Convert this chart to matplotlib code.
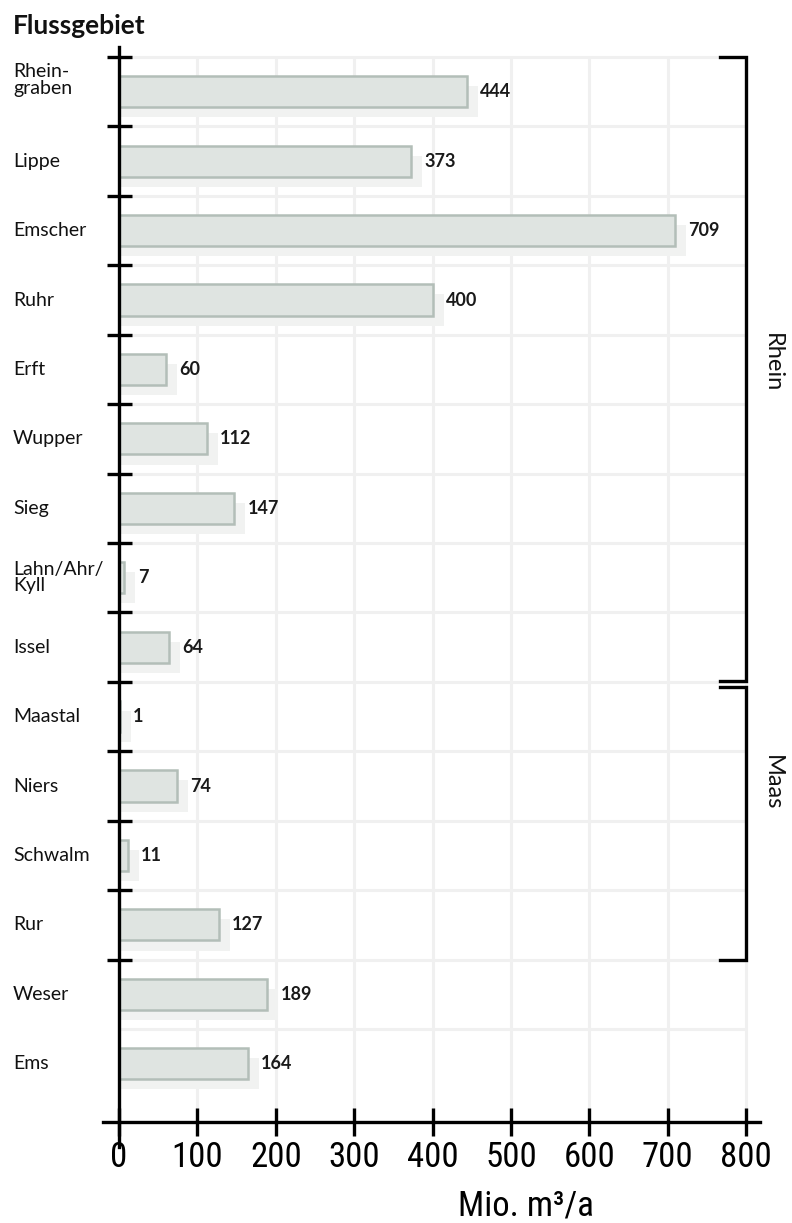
import os
import matplotlib
matplotlib.use('Agg')
import matplotlib.pyplot as plt
from matplotlib import font_manager
from matplotlib.font_manager import FontProperties
from matplotlib.transforms import blended_transform_factory

# data
categories = ['Rhein-\ngraben', 'Lippe', 'Emscher', 'Ruhr', 'Erft', 'Wupper', 'Sieg',
              'Lahn/Ahr/\nKyll', 'Issel', 'Maastal', 'Niers', 'Schwalm', 'Rur', 'Weser', 'Ems']
values = [444, 373, 709, 400, 60, 112, 147, 7, 64, 1, 74, 11, 127, 189, 164]
xticks = [0, 100, 200, 300, 400, 500, 600, 700, 800]
# group name, first row edge, last row edge, label row
groups = [('Rhein', -0.5, 8.49, 3.9), ('Maas', 8.57, 12.5, 9.95)]

# fonts
names = {f.name for f in font_manager.fontManager.ttflist}
label_family = ['Lato', 'DejaVu Sans'] if 'Lato' in names else ['Open Sans', 'DejaVu Sans']

narrow_file = None
narrow_size = 22
for key, size in [('LiberationSansNarrow-Regular', 26), ('RobotoCondensed-Regular', 25),
                  ('DejaVuSansCondensed.ttf', 22)]:
    hits = [f.fname for f in font_manager.fontManager.ttflist if key in os.path.basename(f.fname)]
    if hits:
        narrow_file, narrow_size = hits[0], size
        break
if narrow_file:
    tick_font = FontProperties(fname=narrow_file, size=narrow_size)
else:
    tick_font = FontProperties(family='Roboto', size=narrow_size)

# colours
bar_fill = '#dfe4e1'
bar_edge = '#b3beb8'
shadow_col = '#f1f2f1'
grid_col = '#f0f0f0'

fig = plt.figure(figsize=(7.92, 12.23), dpi=100)
ax = fig.add_axes([0, 0, 1, 1])

# pixel layout: x=0 at 119px, 100 units = 78.4px; rows 69.43px, first edge at 57px
ax.set_xlim((0 - 119) / 0.784, (792 - 119) / 0.784)
ax.set_ylim((1223 - 57) / 69.43 - 0.5, -57 / 69.43 - 0.5)
ax.set_facecolor('white')

rows = list(range(len(categories)))
x_axis_row = 14.84

# grid
for t in xticks[1:]:
    ax.plot([t, t], [-0.5, x_axis_row], color=grid_col, lw=2.2, zorder=0, solid_capstyle='butt')
for r in rows:
    ax.plot([0, 800], [r - 0.5, r - 0.5], color=grid_col, lw=2.2, zorder=0, solid_capstyle='butt')

# shadows and bars
ax.barh([r + 0.145 for r in rows], [v + 14 for v in values], height=0.45,
        color=shadow_col, edgecolor='none', zorder=1)
ax.barh(rows, values, height=0.45, color=bar_fill, edgecolor=bar_edge,
        linewidth=1.8, zorder=2)

for r, v in zip(rows, values):
    ax.annotate(str(v), (v, r), xytext=(9.5, 0), textcoords='offset points',
                va='center', ha='left', fontsize=13, fontweight='bold',
                color='#1a1a1a', family=label_family, zorder=3)

# category labels
trans = blended_transform_factory(fig.transFigure, ax.transData)
for r, name in zip(rows, categories):
    dy = -0.17 if r == 0 else 0
    ax.text(13 / 792, r + dy, name, transform=trans, ha='left', va='center',
            fontsize=14, family=label_family, color='#111111', linespacing=0.95)

fig.text(13 / 792, 1 - 34 / 1223, 'Flussgebiet', ha='left', va='baseline',
         fontsize=19, fontweight='bold', family=label_family, color='#111111')

# axes lines
for s in ['top', 'right']:
    ax.spines[s].set_visible(False)
ax.spines['left'].set_position(('data', 0))
ax.spines['left'].set_bounds(-0.645, 15.2)
ax.spines['bottom'].set_position(('data', x_axis_row))
ax.spines['bottom'].set_bounds(-20.4, 817.6)
for s in ['left', 'bottom']:
    ax.spines[s].set_linewidth(2.4)
    ax.spines[s].set_color('black')
    ax.spines[s].set_zorder(5)

ax.set_yticks([r - 0.5 for r in rows[:-1]])
ax.set_yticklabels([])
ax.tick_params(axis='y', direction='inout', length=18, width=2.4, color='black')
ax.set_xticks(xticks)
ax.set_xticklabels([str(t) for t in xticks], fontproperties=tick_font)
ax.tick_params(axis='x', direction='inout', length=19.5, width=2.4, color='black', pad=4)

ax.text(519, 16.05, 'Mio. m³/a', ha='center', va='center', fontproperties=tick_font)

# group brackets
for name, top, bottom, label_row in groups:
    ax.plot([767, 800, 800, 767], [top, top, bottom, bottom], color='black', lw=2.4,
            solid_joinstyle='miter', zorder=5, clip_on=False)
    ax.text(834, label_row, name, rotation=-90, ha='center', va='center',
            fontsize=17, family=label_family, color='#111111')

fig.savefig('out.png', dpi=100)
